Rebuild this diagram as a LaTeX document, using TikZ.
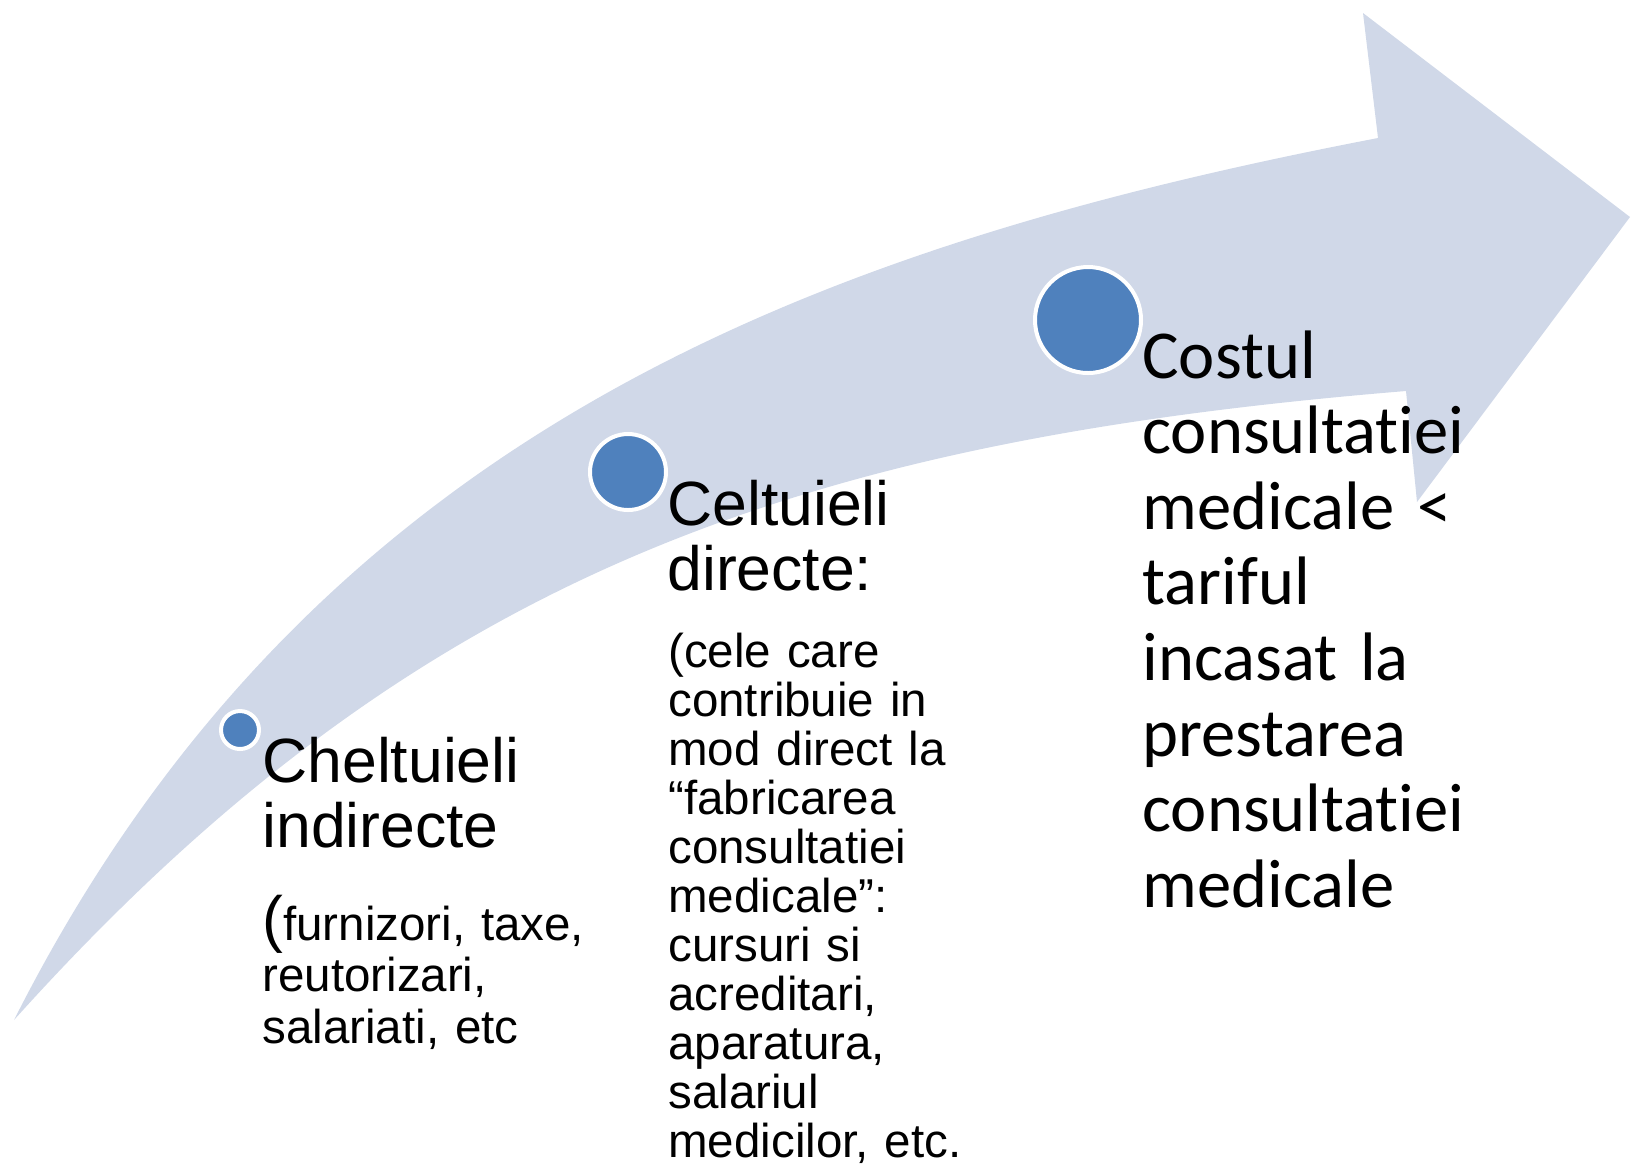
\documentclass[tikz,border=0pt]{standalone}
\usepackage{fontspec}
\setmainfont{Liberation Sans}
\newfontfamily\calibri[Ligatures=NoCommon]{Carlito}
\usepackage{tikz}
\usetikzlibrary{positioning}

\definecolor{bandblue}{HTML}{D0D8E8}
\definecolor{dotblue}{HTML}{4F81BD}

\newcommand{\bigtxt}{\fontsize{31.25}{32.5}\selectfont}
\newcommand{\smalltxt}{\fontsize{23.75}{25.75}\selectfont}
\newcommand{\costtxt}{\calibri\fontsize{34.3}{37.8}\selectfont}

\begin{document}
\begin{tikzpicture}[
    x=0.5pt, y=-0.5pt,
    band/.style={fill=bandblue},
    dot node/.style={circle, fill=dotblue, draw=white, line width=2pt, inner sep=0pt},
    text node/.style={anchor=base west, inner sep=0pt, text width=200pt, align=left},
    title node/.style={text node, font=\bigtxt},
    note node/.style={text node, font=\smalltxt}
]
\useasboundingbox (0,0) rectangle (1633,1175);
% Curved arrow
\fill[band] (14,1020) .. controls (313,428) and (822,245) .. (1378,138)
    -- (1363,13) -- (1630,217) -- (1417,502) -- (1406,391)
    .. controls (797,441) and (415,574) .. cycle;
% Steps on the arrow
\node[dot node, minimum size=19pt] (Dot_Ind) at (240,730) {};
\node[dot node, minimum size=38pt] (Dot_Dir) at (628,472) {};
\node[dot node, minimum size=53pt] (Dot_Cost) at (1088,320) {};
% Indirect costs
\node[title node] (Head_Ind) at (262,782) {Cheltuieli\\indirecte};
\node[note node] (Note_Ind) at (262,940) {{\bigtxt(}furnizori, taxe,\\reutorizari,\\salariati, etc};
% Direct costs
\node[title node] (Head_Dir) at (667,525) {Celtuieli\\directe:};
\node[note node, font=\fontsize{23.75}{24.5}\selectfont] (Note_Dir) at (668,667)
    {(cele care\\contribuie in\\mod direct la\\“fabricarea\\consultatiei\\medicale”:\\cursuri si\\acreditari,\\aparatura,\\salariul\\medicilor, etc.};
% Cost vs tariff
\node[text node, font=\costtxt] (Cost) at (1142,378)
    {Costul\\consultatiei\\medicale <\\tariful\\incasat la\\prestarea\\consultatiei\\medicale};
\end{tikzpicture}
\end{document}
